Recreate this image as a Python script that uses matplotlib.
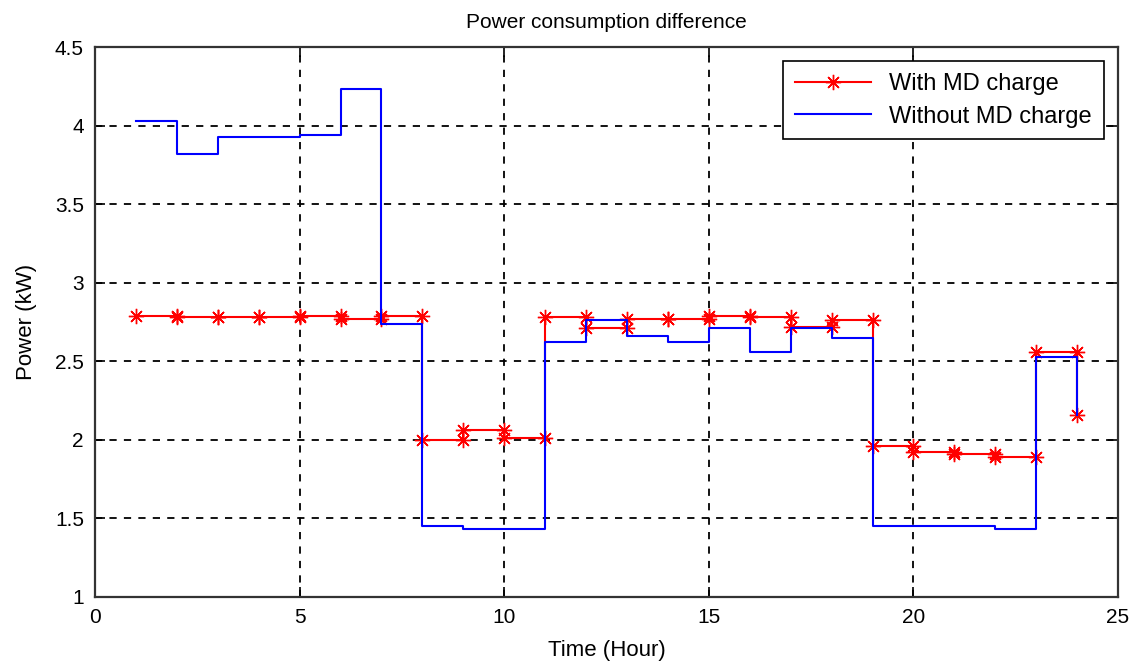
import numpy as np
import matplotlib.pyplot as plt

plt.rcParams['font.family'] = ['Liberation Sans', 'DejaVu Sans']

# hour index (stairs, post)
hours = np.arange(1, 25)

# power with maximum demand charge (kW)
with_md = [2.79, 2.78, 2.78, 2.78, 2.79, 2.77, 2.79, 2.00, 2.06, 2.01,
           2.78, 2.71, 2.77, 2.77, 2.79, 2.78, 2.72, 2.76, 1.96, 1.92,
           1.91, 1.89, 2.56, 2.16]

# power without maximum demand charge (kW)
without_md = [4.03, 3.82, 3.93, 3.93, 3.94, 4.23, 2.74, 1.45, 1.43, 1.43,
              2.62, 2.76, 2.66, 2.62, 2.71, 2.56, 2.71, 2.65, 1.45, 1.45,
              1.45, 1.43, 2.53, 2.16]


def stair_vertices(x, y):
    # corners of a post-step line, so markers land on every corner like matlab stairs
    x = np.asarray(x, dtype=float)
    y = np.asarray(y, dtype=float)
    xx = np.repeat(x, 2)[1:]
    yy = np.repeat(y, 2)[:-1]
    return xx, yy


fig = plt.figure(figsize=(11.37, 6.68), dpi=100)
ax = fig.add_axes([0.0836, 0.1063, 0.8997, 0.8233])

xr, yr = stair_vertices(hours, with_md)
xb, yb = stair_vertices(hours, without_md)
ax.plot(xr, yr, color='red', lw=1.5, marker=(8, 2, 0), ms=11, mew=1.0,
        label='With MD charge')
ax.plot(xb, yb, color='blue', lw=1.5, label='Without MD charge')

ax.set_xlim(0, 25)
ax.set_ylim(1, 4.5)
ax.set_xticks(np.arange(0, 26, 5))
ax.set_yticks(np.arange(1, 4.51, 0.5))
ax.set_yticklabels(['1', '1.5', '2', '2.5', '3', '3.5', '4', '4.5'])

ax.grid(True, color='black', linestyle=(0, (4, 4)), lw=1.3)
ax.tick_params(direction='in', length=7, width=1.2, top=True, right=True,
               labelsize=15, pad=8)
for s in ax.spines.values():
    s.set_linewidth(1.6)
    s.set_color('#333333')

ax.set_title('Power consumption difference', fontsize=15, pad=14)
ax.set_xlabel('Time (Hour)', fontsize=16, labelpad=9)
ax.set_ylabel('Power (kW)', fontsize=16, labelpad=13)

leg = ax.legend(loc='upper right', fontsize=17, fancybox=False, framealpha=1,
                edgecolor='black', borderaxespad=0.6, handlelength=3.2,
                labelspacing=0.45, borderpad=0.5)
leg.get_frame().set_linewidth(1.2)

fig.savefig('out.png', dpi=100)
